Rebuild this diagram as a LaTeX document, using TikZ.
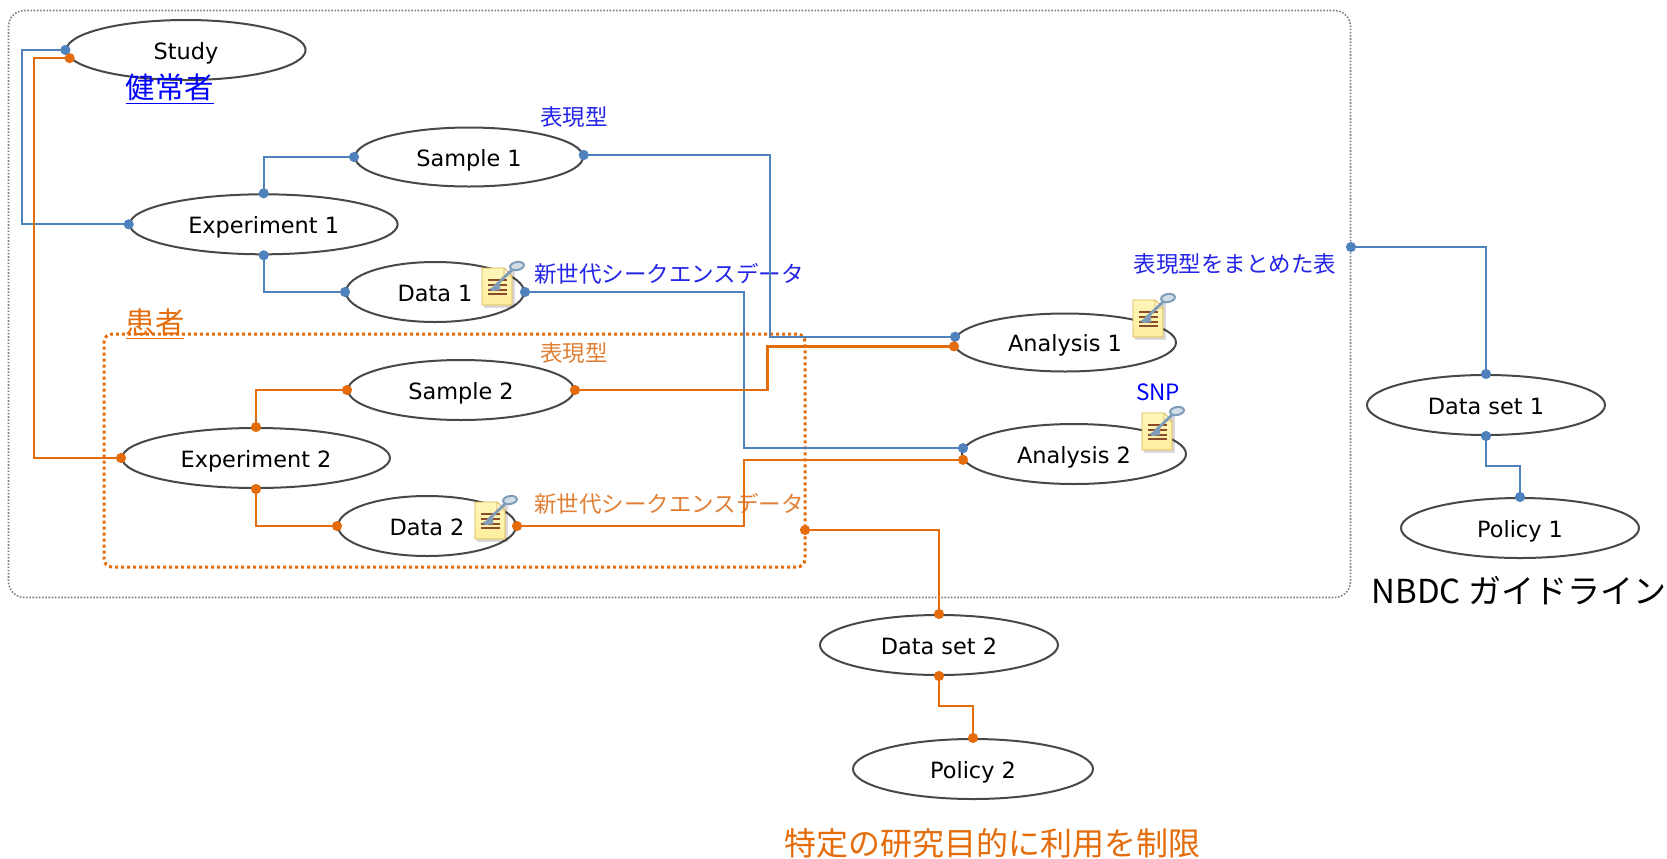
\documentclass[tikz,border=0pt]{standalone}
\usepackage{fontspec}
\setmainfont{DejaVu Sans}
\newfontfamily\cjk{Noto Sans CJK JP}
\usetikzlibrary{shapes.geometric,arrows.meta}
\definecolor{lblue}{HTML}{4F81BD}
\definecolor{lorange}{HTML}{E46C0A}
\definecolor{tblue}{HTML}{2424E8}
\definecolor{torange}{HTML}{E07F35}
\definecolor{edge}{HTML}{484848}
\definecolor{docTop}{HTML}{FFF6B8}
\definecolor{docMid}{HTML}{FFD060}
\definecolor{docBot}{HTML}{FFEE9E}
\definecolor{docEdge}{HTML}{D9B24A}
\definecolor{docFold}{HTML}{FFFBE0}
\definecolor{docLine}{HTML}{8B4A2B}
\definecolor{keyCol}{HTML}{7F9DB9}
\tikzset{
  ell/.style={draw=edge,line width=1pt,ellipse,inner sep=0pt,minimum height=30pt,text height=11pt,text depth=1.8pt,font=\fontsize{11.2}{13}\selectfont},
  conn/.style={line width=1.15pt,{Circle[length=5pt,width=5pt]}-{Circle[length=5pt,width=5pt]},shorten <=-2.5pt,shorten >=-2.5pt},
  bl/.style={conn,draw=lblue,color=lblue},
  og/.style={conn,draw=lorange,color=lorange},
  small/.style={inner sep=0pt,font=\cjk\fontsize{11.25}{13}\selectfont},
  sblue/.style={small,text=tblue},
  sorange/.style={small,text=torange},
  bigl/.style={inner sep=0pt,font=\cjk\fontsize{16.5}{19}\selectfont},
  pics/keydoc/.style={code={
    \fill[black,opacity=.15] (2,3) rectangle (33,40);
    \shade[top color=docTop,middle color=docMid,bottom color=docBot,draw=docEdge,line width=.4pt] (0,0) -- (22,0) -- (30,8) -- (30,37) -- (0,37) -- cycle;
    \fill[docFold,draw=docEdge,line width=.3pt] (22,0) -- (30,8) -- (22,8) -- cycle;
    \foreach \yy in {12,17,22,26}{\draw[docLine,line width=.7pt] (6,\yy) -- (25,\yy);}
    \draw[keyCol,line width=1.4pt] (12,19) -- (31,1);
    \fill[keyCol] (7,21) -- (18,15) -- (18,22) -- (11,23) -- cycle;
    \draw[keyCol,line width=1pt,fill=keyCol!35,rotate around={10:(35,-2)}] (35,-2) ellipse [x radius=7,y radius=4];
  }}
}
\begin{document}
\begin{tikzpicture}[x=0.5pt,y=-0.5pt]
\useasboundingbox (0,0) rectangle (1667,858);
% frames
\node[draw=gray,line width=.8pt,dash pattern=on .8pt off .8pt,rounded corners=8pt,minimum width=671pt,minimum height=293.5pt,inner sep=0pt] (frame) at (679.5,304) {};
\node[draw=lorange,line width=1.5pt,dash pattern=on 1.5pt off 1.5pt,rounded corners=4pt,minimum width=350.5pt,minimum height=116.5pt,inner sep=0pt] (pbox) at (454.5,450.5) {};
% ellipses
\node[ell,minimum width=119.6pt] (study) at (186,50) {Study};
\node[ell,minimum width=134pt] (exp1) at (263.7,224.3) {Experiment 1};
\node[ell,minimum width=114pt,minimum height=29.5pt] (sam1) at (469,157) {Sample 1};
\node[ell,minimum width=89pt] (dat1) at (435,292) {Data 1};
\node[ell,minimum width=113pt] (sam2) at (461,390) {Sample 2};
\node[ell,minimum width=134pt] (exp2) at (256,458) {Experiment 2};
\node[ell,minimum width=89pt] (dat2) at (427,526) {Data 2};
\node[ell,minimum width=111pt,minimum height=29pt] (ana1) at (1065,342.5) {Analysis 1};
\node[ell,minimum width=112pt] (ana2) at (1074,454) {Analysis 2};
\node[ell,minimum width=119pt] (ds1) at (1486,405) {Data set 1};
\node[ell,minimum width=119pt] (pol1) at (1520,528) {Policy 1};
\node[ell,minimum width=119pt] (ds2) at (939,645) {Data set 2};
\node[ell,minimum width=120pt] (pol2) at (973,769) {Policy 2};
% icons
\pic at (482,268) {keydoc};
\pic at (475,502) {keydoc};
\pic at (1133,300) {keydoc};
\pic at (1142,413) {keydoc};
% labels
\node[inner sep=0pt,text=blue,font=\cjk\fontsize{14.7}{17}\selectfont] (lab1) at (170,89) {\underline{健常者}};
\node[inner sep=0pt,text=lorange,font=\cjk\fontsize{14.7}{17}\selectfont] (lab2) at (155,324) {\underline{患者}};
\node[sblue] (lab3) at (574,117) {表現型};
\node[sblue] (lab4) at (669,274) {新世代シークエンスデータ};
\node[sorange] (lab5) at (574,353) {表現型};
\node[sorange] (lab6) at (669,504) {新世代シークエンスデータ};
\node[sblue] (lab7) at (1235,264) {表現型をまとめた表};
\node[sblue,text=blue] (lab8) at (1158,392) {SNP};
\node[bigl] (lab9) at (1519,591) {NBDC ガイドライン};
\node[inner sep=0pt,text=lorange,font=\cjk\fontsize{16}{19}\selectfont] (lab10) at (992,843) {特定の研究目的に利用を制限};
% routing coordinates
\coordinate (busS) at (22,0);
\coordinate (busO) at (34,0);
\coordinate (busA) at (770,0);
\coordinate (busB) at (744,0);
\coordinate (busC) at (767.6,0);
\coordinate (jog1) at (0,466);
\coordinate (jog2) at (0,706);
\coordinate (fport) at (1351,247);
\coordinate (pport) at (805,530);
% connectors
\draw[bl] (study.west) -- (study.west -| busS) -- (exp1.west -| busS) -- (exp1.west);
\draw[bl] (exp1.north) |- (sam1.west);
\draw[bl] (exp1.south) |- (dat1.west);
\draw[bl] (sam1.1) -- (sam1.1 -| busA) -- (ana1.177 -| busA) -- (ana1.177);
\draw[bl] (dat1.east) -- (dat1.east -| busB) -- (ana2.177 -| busB) -- (ana2.177);
\draw[bl] (fport) -| (ds1.north);
\draw[bl] (ds1.south) -- (ds1.south |- jog1) -- (pol1.north |- jog1) -- (pol1.north);
\draw[og] (study.184) -- (study.184 -| busO) -- (exp2.west -| busO) -- (exp2.west);
\draw[og] (exp2.north) |- (sam2.west);
\draw[og] (exp2.south) |- (dat2.west);
\draw[og] (sam2.east) -- (sam2.east -| busC) -- (ana1.182 -| busC) -- (ana1.182);
\draw[og] (dat2.east) -- (dat2.east -| busB) -- (ana2.183 -| busB) -- (ana2.183);
\draw[og] (pport) -| (ds2.north);
\draw[og] (ds2.south) -- (ds2.south |- jog2) -- (pol2.north |- jog2) -- (pol2.north);
\end{tikzpicture}
\end{document}
